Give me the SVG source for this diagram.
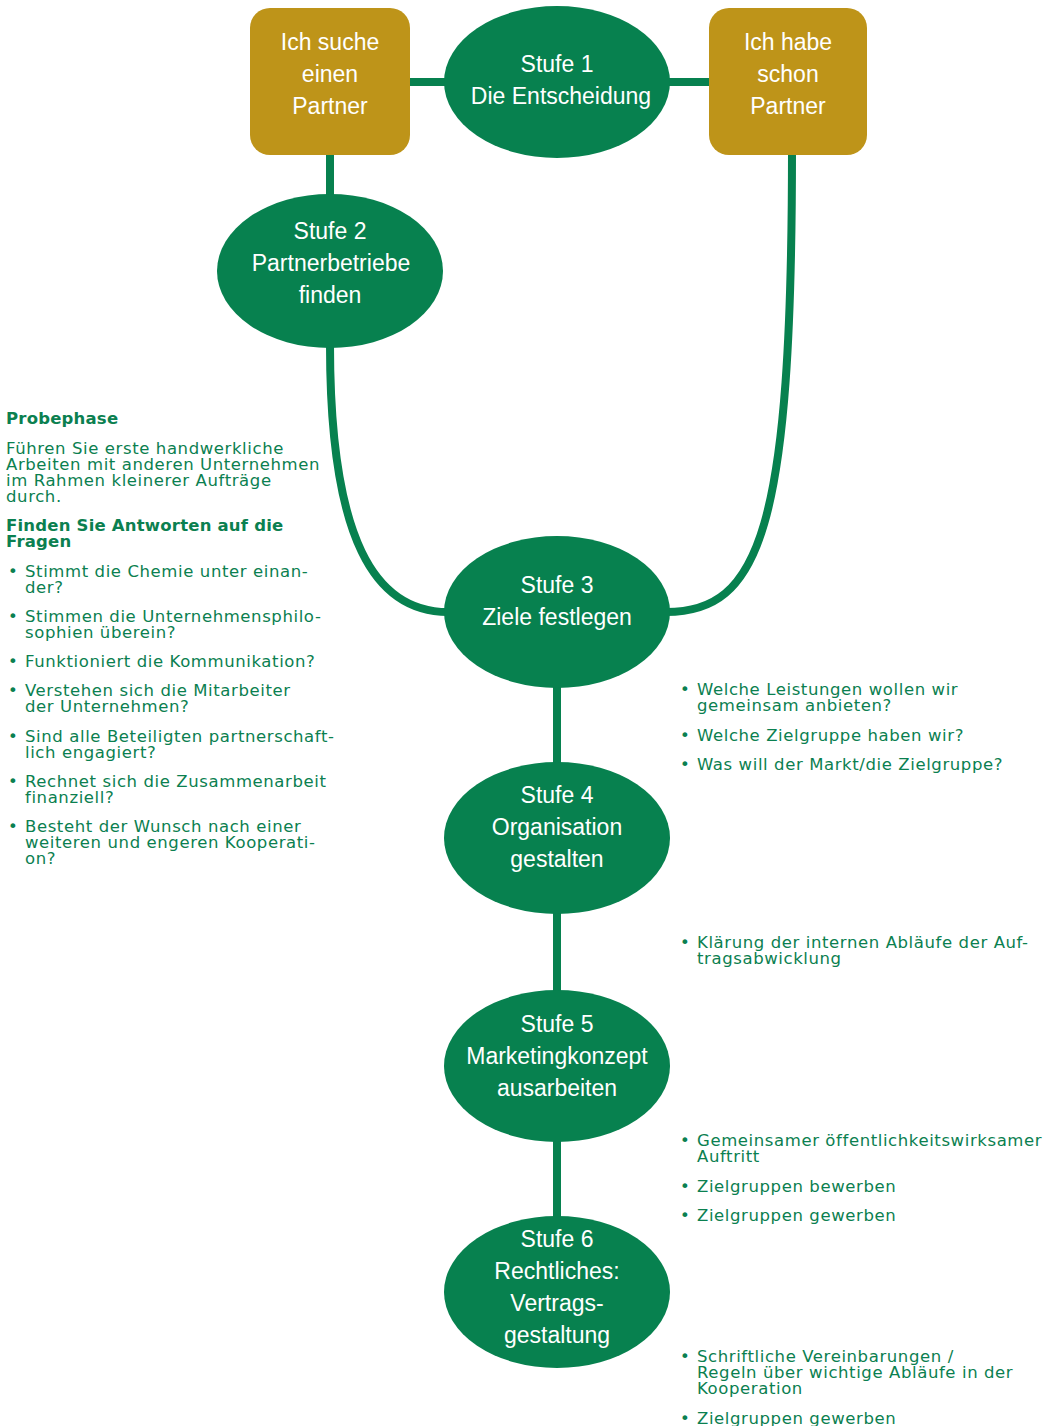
<svg xmlns="http://www.w3.org/2000/svg" width="1050" height="1426" viewBox="0 0 1050 1426">
<style>
.conn{fill:none;stroke:#07814F;stroke-width:8}
.ell{fill:#07814F}
.box{fill:#BE9419}
.nt{font-family:"Liberation Sans",Arial,sans-serif;font-size:23px;fill:#ffffff;text-anchor:middle}
.tx{font-family:"DejaVu Sans","Noto Sans",sans-serif;font-size:16.5px;letter-spacing:0.6px;fill:#0B8050}
.b{font-weight:bold;letter-spacing:0.2px}
</style>
<rect width="1050" height="1426" fill="#ffffff"/>
<g id="connectors">
<line class="conn" x1="405" y1="82" x2="450" y2="82"/>
<line class="conn" x1="665" y1="82" x2="714" y2="82"/>
<line class="conn" x1="330" y1="150" x2="330" y2="200"/>
<path class="conn" d="M330,345 C330,540 375,612 448,612"/>
<path class="conn" d="M792,150 C792,530 760,612 666,612"/>
<line class="conn" x1="557" y1="684" x2="557" y2="766"/>
<line class="conn" x1="557" y1="910" x2="557" y2="994"/>
<line class="conn" x1="557" y1="1138" x2="557" y2="1220"/>
</g>
<g id="box1">
<rect class="box" x="250" y="8" width="160" height="147" rx="20"/>
<text class="nt" x="330" y="50">Ich suche</text>
<text class="nt" x="330" y="82">einen</text>
<text class="nt" x="330" y="114">Partner</text>
</g>
<g id="box2">
<rect class="box" x="709" y="8" width="158" height="147" rx="20"/>
<text class="nt" x="788" y="50">Ich habe</text>
<text class="nt" x="788" y="82">schon</text>
<text class="nt" x="788" y="114">Partner</text>
</g>
<g id="stufe1">
<ellipse class="ell" cx="557" cy="82" rx="113" ry="76"/>
<text class="nt" x="557" y="72">Stufe 1</text>
<text class="nt" x="561" y="104">Die Entscheidung</text>
</g>
<g id="stufe2">
<ellipse class="ell" cx="330" cy="271" rx="113" ry="77"/>
<text class="nt" x="330" y="239">Stufe 2</text>
<text class="nt" x="331" y="271">Partnerbetriebe</text>
<text class="nt" x="330" y="303">finden</text>
</g>
<g id="stufe3">
<ellipse class="ell" cx="557" cy="612" rx="113" ry="76"/>
<text class="nt" x="557" y="593">Stufe 3</text>
<text class="nt" x="557" y="625">Ziele festlegen</text>
</g>
<g id="stufe4">
<ellipse class="ell" cx="557" cy="838" rx="113" ry="76"/>
<text class="nt" x="557" y="803">Stufe 4</text>
<text class="nt" x="557" y="835">Organisation</text>
<text class="nt" x="557" y="867">gestalten</text>
</g>
<g id="stufe5">
<ellipse class="ell" cx="557" cy="1066" rx="113" ry="76"/>
<text class="nt" x="557" y="1032">Stufe 5</text>
<text class="nt" x="557" y="1064">Marketingkonzept</text>
<text class="nt" x="557" y="1096">ausarbeiten</text>
</g>
<g id="stufe6">
<ellipse class="ell" cx="557" cy="1292" rx="113" ry="76"/>
<text class="nt" x="557" y="1247">Stufe 6</text>
<text class="nt" x="557" y="1279">Rechtliches:</text>
<text class="nt" x="557" y="1311">Vertrags-</text>
<text class="nt" x="557" y="1343">gestaltung</text>
</g>
<g id="probephase">
<text class="tx b" x="6" y="424">Probephase</text>
<text class="tx" x="6" y="454">Führen Sie erste handwerkliche</text>
<text class="tx" x="6" y="470">Arbeiten mit anderen Unternehmen</text>
<text class="tx" x="6" y="486">im Rahmen kleinerer Aufträge</text>
<text class="tx" x="6" y="502">durch.</text>
<text class="tx b" x="6" y="531">Finden Sie Antworten auf die</text>
<text class="tx b" x="6" y="547">Fragen</text>
<text class="tx" x="8" y="577">•</text><text class="tx" x="25" y="577">Stimmt die Chemie unter einan-</text>
<text class="tx" x="25" y="593">der?</text>
<text class="tx" x="8" y="622">•</text><text class="tx" x="25" y="622">Stimmen die Unternehmensphilo-</text>
<text class="tx" x="25" y="638">sophien überein?</text>
<text class="tx" x="8" y="667">•</text><text class="tx" x="25" y="667">Funktioniert die Kommunikation?</text>
<text class="tx" x="8" y="696">•</text><text class="tx" x="25" y="696">Verstehen sich die Mitarbeiter</text>
<text class="tx" x="25" y="712">der Unternehmen?</text>
<text class="tx" x="8" y="742">•</text><text class="tx" x="25" y="742">Sind alle Beteiligten partnerschaft-</text>
<text class="tx" x="25" y="758">lich engagiert?</text>
<text class="tx" x="8" y="787">•</text><text class="tx" x="25" y="787">Rechnet sich die Zusammenarbeit</text>
<text class="tx" x="25" y="803">finanziell?</text>
<text class="tx" x="8" y="832">•</text><text class="tx" x="25" y="832">Besteht der Wunsch nach einer</text>
<text class="tx" x="25" y="848">weiteren und engeren Kooperati-</text>
<text class="tx" x="25" y="864">on?</text>
</g>
<g id="notes3">
<text class="tx" x="680" y="695">•</text><text class="tx" x="697" y="695">Welche Leistungen wollen wir</text>
<text class="tx" x="697" y="711">gemeinsam anbieten?</text>
<text class="tx" x="680" y="741">•</text><text class="tx" x="697" y="741">Welche Zielgruppe haben wir?</text>
<text class="tx" x="680" y="770">•</text><text class="tx" x="697" y="770">Was will der Markt/die Zielgruppe?</text>
</g>
<g id="notes4">
<text class="tx" x="680" y="948">•</text><text class="tx" x="697" y="948">Klärung der internen Abläufe der Auf-</text>
<text class="tx" x="697" y="964">tragsabwicklung</text>
</g>
<g id="notes5">
<text class="tx" x="680" y="1146">•</text><text class="tx" x="697" y="1146">Gemeinsamer öffentlichkeitswirksamer</text>
<text class="tx" x="697" y="1162">Auftritt</text>
<text class="tx" x="680" y="1192">•</text><text class="tx" x="697" y="1192">Zielgruppen bewerben</text>
<text class="tx" x="680" y="1221">•</text><text class="tx" x="697" y="1221">Zielgruppen gewerben</text>
</g>
<g id="notes6">
<text class="tx" x="680" y="1362">•</text><text class="tx" x="697" y="1362">Schriftliche Vereinbarungen /</text>
<text class="tx" x="697" y="1378">Regeln über wichtige Abläufe in der</text>
<text class="tx" x="697" y="1394">Kooperation</text>
<text class="tx" x="680" y="1424">•</text><text class="tx" x="697" y="1424">Zielgruppen gewerben</text>
</g>
</svg>
